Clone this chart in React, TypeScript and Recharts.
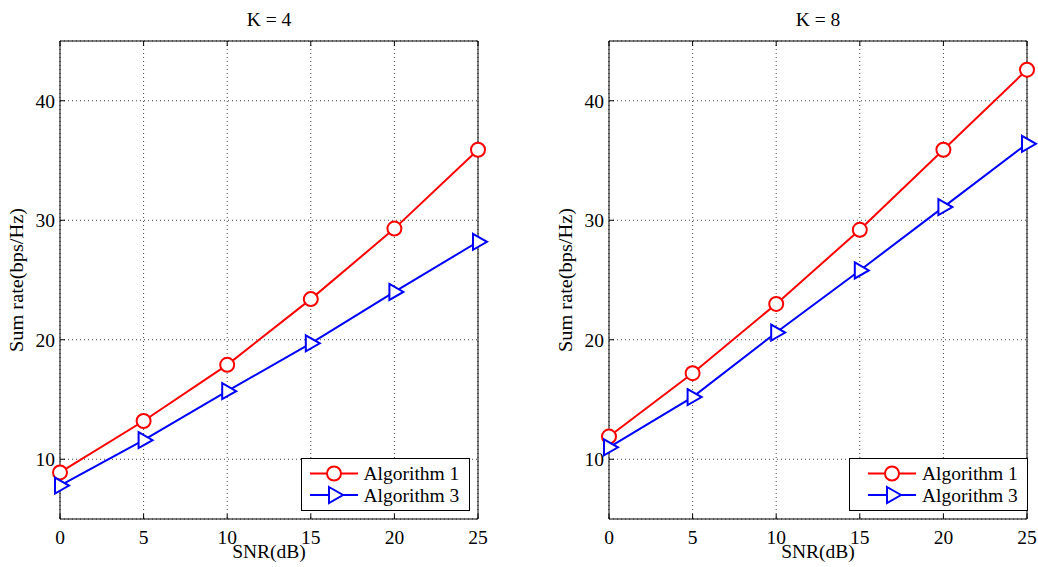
import React from 'react';
import { LineChart, Line, XAxis, YAxis, CartesianGrid, Legend, Label } from 'recharts';

const snr = [0, 5, 10, 15, 20, 25];
const k4Algorithm1 = [8.9, 13.2, 17.9, 23.4, 29.3, 35.9];
const k4Algorithm3 = [7.8, 11.6, 15.7, 19.7, 24.0, 28.2];
const k8Algorithm1 = [11.9, 17.2, 23.0, 29.2, 35.9, 42.6];
const k8Algorithm3 = [11.0, 15.2, 20.6, 25.8, 31.1, 36.4];
const xTicks = [0, 5, 10, 15, 20, 25];
const yTicks = [10, 20, 30, 40];
const seriesNames = ['Algorithm 1', 'Algorithm 3'];

const RED = '#ff0000';
const BLUE = '#0000ff';
const FONT = 'Liberation Serif, Times New Roman, serif';
const FS = 19.5;
const textStyle: React.CSSProperties = { fontFamily: FONT, fontSize: FS, fill: '#000' };

const CircleDot = (props: any) => {
  const { cx, cy, index } = props;
  if (cx == null || cy == null) return null;
  return <circle key={`c-${index}`} cx={cx} cy={cy} r={7} fill="#fff" stroke={RED} strokeWidth={2} />;
};

const TriangleDot = (props: any) => {
  const { cx, cy, index } = props;
  if (cx == null || cy == null) return null;
  return (
    <path
      key={`t-${index}`}
      d={`M${cx - 5},${cy - 8} L${cx + 9},${cy} L${cx - 5},${cy + 8} Z`}
      fill="#fff"
      stroke={BLUE}
      strokeWidth={2}
    />
  );
};

const XTick = (props: any) => {
  const { x, y, payload } = props;
  return (
    <text x={x} y={y + 14} textAnchor="middle" style={textStyle}>
      {payload.value}
    </text>
  );
};

const YTick = (props: any) => {
  const { x, y, payload } = props;
  return (
    <text x={x} y={y + 7} textAnchor="end" style={textStyle}>
      {payload.value}
    </text>
  );
};

const NoTick = () => <g />;

const makeLegend = (w: number, lineX: number, textX: number) => () => (
  <svg width={w} height={53} style={{ display: 'block' }}>
    <rect x={0.5} y={0.5} width={w - 1} height={52} fill="#fff" stroke="#000" strokeWidth={1} />
    <line x1={lineX} x2={lineX + 48} y1={15.5} y2={15.5} stroke={RED} strokeWidth={2} />
    <circle cx={lineX + 24} cy={15.5} r={7} fill="#fff" stroke={RED} strokeWidth={2} />
    <text x={textX} y={22} style={textStyle}>{seriesNames[0]}</text>
    <line x1={lineX} x2={lineX + 48} y1={37} y2={37} stroke={BLUE} strokeWidth={2} />
    <path
      d={`M${lineX + 19},${37 - 8} L${lineX + 33},37 L${lineX + 19},${37 + 8} Z`}
      fill="#fff"
      stroke={BLUE}
      strokeWidth={2}
    />
    <text x={textX} y={43.5} style={textStyle}>{seriesNames[1]}</text>
  </svg>
);

interface PanelProps {
  title: string;
  alg1: number[];
  alg3: number[];
  left: number;
  width: number;
  marginLeft: number;
  marginRight: number;
  legendLeft: number;
  legendWidth: number;
  legendLineX: number;
  legendTextX: number;
}

const Panel: React.FC<PanelProps> = (p) => {
  const data = snr.map((s, i) => ({ snr: s, alg1: p.alg1[i], alg3: p.alg3[i] }));
  return (
    <div style={{ position: 'absolute', left: p.left, top: 0 }}>
      <LineChart
        width={p.width}
        height={567}
        data={data}
        margin={{ top: 40, right: p.marginRight, bottom: 18, left: p.marginLeft }}
      >
        <CartesianGrid stroke="#444" strokeDasharray="1 3" strokeWidth={1} />
        <XAxis
          dataKey="snr"
          type="number"
          domain={[0, 25]}
          ticks={xTicks}
          height={30}
          tickSize={-5}
          tickMargin={16}
          tick={XTick}
          stroke="#000"
          interval={0}
        >
          <Label
            content={(props: any) => {
              const vb = props.viewBox;
              return (
                <text x={vb.x + vb.width / 2} y={vb.y + 39} textAnchor="middle" style={textStyle}>
                  SNR(dB)
                </text>
              );
            }}
          />
        </XAxis>
        <XAxis
          xAxisId="top"
          orientation="top"
          dataKey="snr"
          type="number"
          domain={[0, 25]}
          ticks={xTicks}
          height={1}
          tickSize={-5}
          tick={NoTick}
          stroke="#000"
          interval={0}
        >
          <Label
            content={(props: any) => {
              const vb = props.viewBox;
              return (
                <text x={vb.x + vb.width / 2} y={25.5} textAnchor="middle" style={textStyle}>
                  {p.title}
                </text>
              );
            }}
          />
        </XAxis>
        <YAxis
          type="number"
          domain={[5, 45]}
          ticks={yTicks}
          width={40}
          tickSize={-5}
          tickMargin={10}
          tick={YTick}
          stroke="#000"
          interval={0}
        >
          <Label
            content={(props: any) => {
              const vb = props.viewBox;
              const cx = vb.x + vb.width - 43;
              const cy = vb.y + vb.height / 2;
              return (
                <text
                  x={cx}
                  y={cy + 6}
                  transform={`rotate(-90 ${cx} ${cy})`}
                  textAnchor="middle"
                  style={{ ...textStyle, fontSize: 18.5 }}
                  textLength={144}
                  lengthAdjust="spacingAndGlyphs"
                >
                  Sum rate(bps/Hz)
                </text>
              );
            }}
          />
        </YAxis>
        <YAxis
          yAxisId="right"
          orientation="right"
          type="number"
          domain={[5, 45]}
          ticks={yTicks}
          width={1}
          tickSize={-5}
          tick={NoTick}
          stroke="#000"
          interval={0}
        />
        <Legend
          layout="vertical"
          verticalAlign="middle"
          align="center"
          content={makeLegend(p.legendWidth, p.legendLineX, p.legendTextX)}
          wrapperStyle={{ position: 'absolute', left: p.legendLeft, top: 458, width: p.legendWidth, height: 53 }}
        />
        <Line
          dataKey="alg1"
          name={seriesNames[0]}
          stroke={RED}
          strokeWidth={2}
          dot={CircleDot}
          activeDot={false}
          isAnimationActive={false}
        />
        <Line
          dataKey="alg3"
          name={seriesNames[1]}
          stroke={BLUE}
          strokeWidth={2}
          dot={TriangleDot}
          activeDot={false}
          isAnimationActive={false}
        />
      </LineChart>
    </div>
  );
};

export default function App() {
  return (
    <div style={{ position: 'absolute', left: 0, top: 0, width: 1038, height: 567, background: '#fff' }}>
      <Panel
        title="K = 4"
        alg1={k4Algorithm1}
        alg3={k4Algorithm3}
        left={0}
        width={519}
        marginLeft={20}
        marginRight={40}
        legendLeft={301}
        legendWidth={169}
        legendLineX={9}
        legendTextX={62.5}
      />
      <Panel
        title="K = 8"
        alg1={k8Algorithm1}
        alg3={k8Algorithm3}
        left={540}
        width={498}
        marginLeft={29}
        marginRight={10}
        legendLeft={309}
        legendWidth={179}
        legendLineX={19}
        legendTextX={73}
      />
    </div>
  );
}
